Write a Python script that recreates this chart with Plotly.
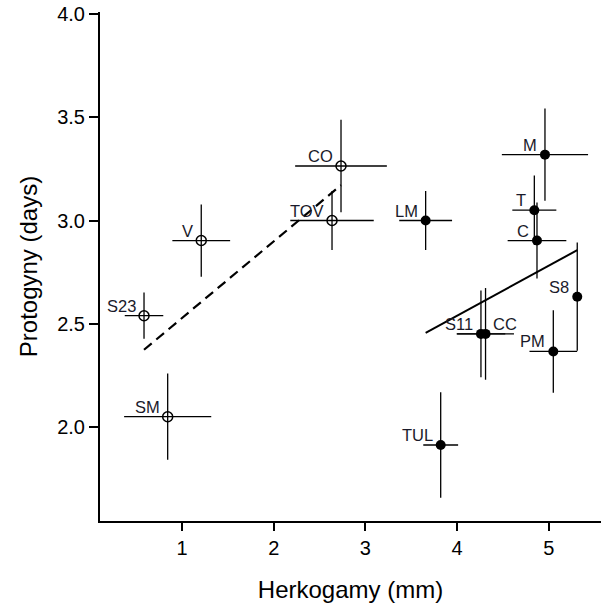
import numpy as np
import plotly.graph_objects as go

# Group A (open circles)
a_labels = ["S23", "SM", "V", "CO", "TOV"]
a_x = [0.586, 0.844, 1.21, 2.734, 2.636]
a_y = [2.539, 2.05, 2.903, 3.264, 3.0]
a_xerr = [0.21, 0.475, 0.315, 0.50, 0.455]
a_yerr = [0.112, 0.209, 0.175, 0.224, 0.143]

# Group B (filled circles)
b_labels = ["LM", "M", "T", "C", "S8", "PM", "S11", "CC", "TUL"]
b_x = [3.657, 4.958, 4.842, 4.871, 5.31, 5.049, 4.26, 4.31, 3.821]
b_y = [3.0, 3.319, 3.05, 2.903, 2.631, 2.366, 2.451, 2.451, 1.913]
b_xerr = [0.288, 0.47, 0.24, 0.32, 0.0, 0.26, 0.265, 0.31, 0.19]
b_yerr = [0.143, 0.223, 0.168, 0.184, 0.262, 0.20, 0.21, 0.222, 0.256]

label_side = {"CC": "right"}

x_ticks = [1, 2, 3, 4, 5]
y_ticks = [2.0, 2.5, 3.0, 3.5, 4.0]
y_tick_text = ["2.0", "2.5", "3.0", "3.5", "4.0"]

FONT = "Liberation Sans, Arial, sans-serif"

fig = go.Figure()

def fit_line(xs, ys):
    k, b = np.polyfit(xs, ys, 1)
    xx = np.array([min(xs), max(xs)])
    return xx, k * xx + b

fx, fy = fit_line(a_x, a_y)
fig.add_trace(go.Scatter(x=fx, y=fy, mode="lines",
                         line=dict(color="black", width=2.2, dash="10px,6px"),
                         showlegend=False, hoverinfo="skip"))
fx, fy = fit_line(b_x, b_y)
fig.add_trace(go.Scatter(x=fx, y=fy, mode="lines",
                         line=dict(color="black", width=2),
                         showlegend=False, hoverinfo="skip"))

fig.add_trace(go.Scatter(
    x=a_x, y=a_y, mode="markers",
    marker=dict(symbol="circle-open", size=10, color="black", line=dict(width=1.5, color="black")),
    error_x=dict(type="data", array=a_xerr, symmetric=True, width=0, thickness=1.3, color="black"),
    error_y=dict(type="data", array=a_yerr, symmetric=True, width=0, thickness=1.3, color="black"),
    showlegend=False))

fig.add_trace(go.Scatter(
    x=b_x, y=b_y, mode="markers",
    marker=dict(symbol="circle", size=10, color="black"),
    error_x=dict(type="data", array=b_xerr, symmetric=True, width=0, thickness=1.3, color="black"),
    error_y=dict(type="data", array=b_yerr, symmetric=True, width=0, thickness=1.3, color="black"),
    showlegend=False))

for labs, xs, ys in [(a_labels, a_x, a_y), (b_labels, b_x, b_y)]:
    for lab, xv, yv in zip(labs, xs, ys):
        side = label_side.get(lab, "left")
        fig.add_annotation(
            x=xv, y=yv, text=lab, showarrow=False,
            xanchor="left" if side == "right" else "right", yanchor="bottom",
            xshift=5 if side == "right" else -6, yshift=-1,
            font=dict(family=FONT, size=16.5, color="#1a1a2a"))

fig.update_layout(
    width=601, height=608,
    margin=dict(l=100, r=0, t=12, b=87, autoexpand=False),
    paper_bgcolor="white", plot_bgcolor="white",
    font=dict(family=FONT, color="black"),
    showlegend=False,
)
fig.update_xaxes(
    range=[0.106, 5.569], tickvals=x_ticks, ticktext=[str(t) for t in x_ticks],
    automargin=False,
    showgrid=False, zeroline=False, showline=True, linecolor="black", linewidth=2,
    ticks="outside", ticklen=8, tickwidth=2, tickcolor="black",
    tickfont=dict(family=FONT, size=20, color="black"),
    title=dict(text="Herkogamy (mm)", font=dict(family=FONT, size=24, color="black"), standoff=23),
)
fig.update_yaxes(
    range=[1.545, 4.0097], tickvals=y_ticks, ticktext=y_tick_text,
    automargin=False,
    showgrid=False, zeroline=False, showline=True, linecolor="black", linewidth=2,
    ticks="outside", ticklen=9, tickwidth=2, tickcolor="black",
    tickfont=dict(family=FONT, size=20, color="black"),
    title=dict(text="Protogyny (days)", font=dict(family=FONT, size=24, color="black"), standoff=13),
)

fig.write_html("out.html", config={"displayModeBar": False},
               post_script="document.body.style.margin='0px';")
